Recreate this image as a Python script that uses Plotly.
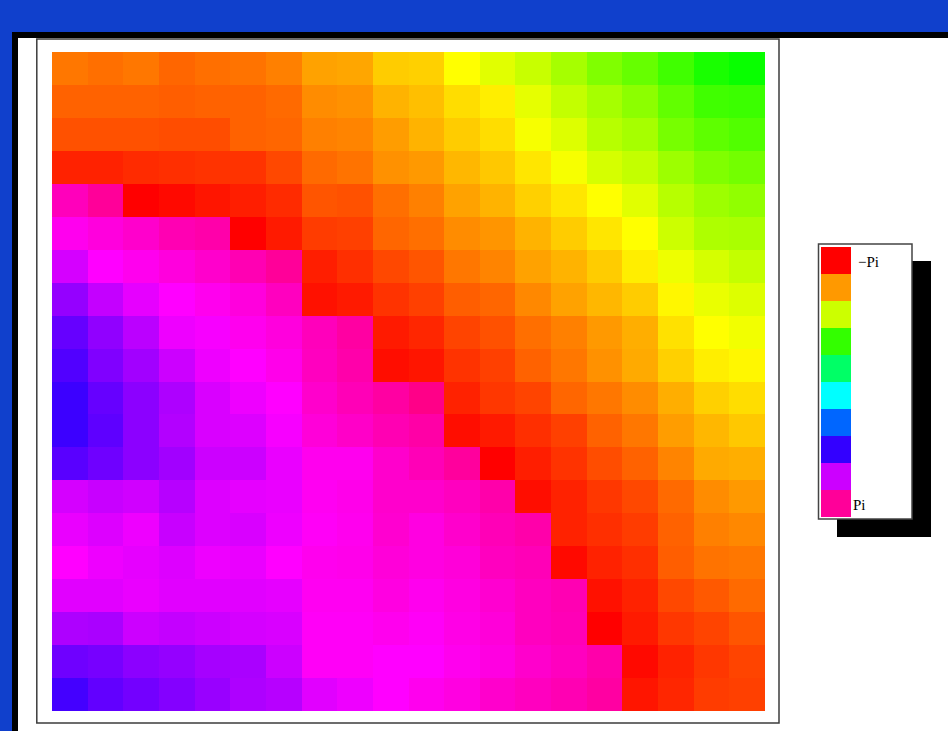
import plotly.graph_objects as go

phase_hue = [
    [28, 26, 28, 24, 26, 27, 30, 38, 39, 48, 49, 60, 67, 73, 81, 90, 96, 105, 114, 118],
    [23, 23, 23, 22, 23, 23, 25, 33, 34, 42, 45, 52, 56, 66, 74, 81, 87, 97, 105, 106],
    [19, 19, 19, 18, 18, 23, 24, 30, 31, 37, 42, 48, 52, 62, 68, 77, 81, 92, 98, 101],
    [8, 8, 10, 11, 12, 12, 17, 25, 27, 34, 36, 43, 47, 54, 62, 70, 74, 83, 90, 93],
    [316, 324, 0, 2, 5, 7, 10, 20, 19, 26, 30, 38, 42, 49, 54, 60, 67, 77, 83, 86],
    [304, 308, 312, 318, 320, 0, 6, 14, 15, 24, 26, 33, 35, 42, 48, 54, 60, 72, 79, 80],
    [290, 300, 304, 308, 312, 318, 324, 7, 11, 17, 20, 28, 31, 38, 42, 48, 56, 64, 70, 74],
    [275, 286, 294, 300, 304, 308, 315, 4, 6, 12, 15, 22, 24, 32, 38, 43, 48, 58, 65, 68],
    [264, 274, 284, 296, 298, 304, 308, 316, 322, 6, 9, 16, 19, 26, 30, 36, 41, 53, 60, 63],
    [259, 270, 278, 288, 296, 300, 305, 315, 320, 3, 5, 12, 15, 23, 28, 34, 40, 49, 56, 58],
    [254, 264, 273, 281, 291, 296, 300, 312, 317, 322, 328, 8, 13, 16, 24, 28, 33, 41, 49, 52],
    [254, 262, 273, 282, 291, 292, 298, 309, 313, 318, 321, 3, 6, 11, 15, 23, 28, 37, 43, 47],
    [261, 266, 273, 278, 288, 288, 295, 304, 304, 312, 317, 323, 0, 7, 12, 18, 23, 31, 40, 41],
    [290, 287, 289, 283, 292, 294, 295, 303, 305, 312, 312, 315, 320, 3, 8, 13, 17, 25, 33, 36],
    [295, 292, 296, 287, 292, 291, 296, 302, 304, 311, 307, 312, 317, 320, 8, 11, 14, 23, 30, 32],
    [300, 296, 294, 292, 296, 295, 300, 304, 305, 309, 307, 309, 315, 317, 2, 8, 11, 22, 27, 28],
    [293, 293, 295, 293, 293, 293, 294, 303, 303, 307, 304, 307, 311, 315, 318, 4, 8, 17, 21, 25],
    [281, 280, 288, 286, 288, 290, 291, 302, 302, 304, 302, 306, 309, 315, 317, 0, 6, 13, 16, 20],
    [266, 268, 273, 275, 279, 280, 288, 302, 302, 300, 300, 304, 307, 312, 315, 320, 2, 8, 13, 16],
    [256, 263, 267, 271, 276, 281, 283, 293, 296, 300, 304, 307, 312, 315, 318, 322, 5, 9, 14, 15],
]

legend_hues = [0, 36, 72, 108, 144, 180, 216, 252, 288, 324]
legend_labels = ["\u2212Pi", "Pi"]

W, H = 948, 731


def px(x):
    return x / W


def py(y):
    return 1 - y / H


hue_scale = [
    [0.0, "#ff0000"], [1 / 6, "#ffff00"], [2 / 6, "#00ff00"], [3 / 6, "#00ffff"],
    [4 / 6, "#0000ff"], [5 / 6, "#ff00ff"], [1.0, "#ff0000"],
]

fig = go.Figure()
fig.add_trace(go.Heatmap(
    z=phase_hue, colorscale=hue_scale, zmin=0, zmax=360, showscale=False,
    hoverinfo="skip", xaxis="x", yaxis="y",
))
fig.add_trace(go.Heatmap(
    z=[[h] for h in legend_hues], colorscale=hue_scale, zmin=0, zmax=360,
    showscale=False, hoverinfo="skip", xaxis="x2", yaxis="y2",
))

shapes = [
    dict(type="rect", xref="paper", yref="paper", x0=px(12), x1=px(W), y0=py(32), y1=py(H),
         fillcolor="#000000", line=dict(width=0), layer="below"),
    dict(type="rect", xref="paper", yref="paper", x0=px(18), x1=px(W), y0=py(38), y1=py(H),
         fillcolor="#ffffff", line=dict(width=0), layer="below"),
    dict(type="rect", xref="paper", yref="paper", x0=px(36.8), x1=px(779), y0=py(39), y1=py(723),
         fillcolor="rgba(0,0,0,0)", line=dict(color="#3c3c3c", width=1.5), layer="below"),
    dict(type="rect", xref="paper", yref="paper", x0=px(837), x1=px(931), y0=py(261), y1=py(537),
         fillcolor="#000000", line=dict(width=0), layer="below"),
    dict(type="rect", xref="paper", yref="paper", x0=px(818.5), x1=px(912), y0=py(244), y1=py(519),
         fillcolor="#ffffff", line=dict(color="#444444", width=1.5), layer="below"),
]

annotations = [
    dict(text=legend_labels[0], x=px(856), y=py(262), xref="paper", yref="paper",
         xanchor="left", yanchor="middle", showarrow=False,
         font=dict(family="Liberation Serif", size=15, color="#000000")),
    dict(text=legend_labels[1], x=px(851), y=py(505), xref="paper", yref="paper",
         xanchor="left", yanchor="middle", showarrow=False,
         font=dict(family="Liberation Serif", size=15, color="#000000")),
]

hidden = dict(visible=False, showgrid=False, zeroline=False, fixedrange=True)

fig.update_layout(
    width=W, height=H,
    margin=dict(l=0, r=0, t=0, b=0),
    paper_bgcolor="#1040cc",
    plot_bgcolor="rgba(0,0,0,0)",
    showlegend=False,
    xaxis=dict(domain=[px(52), px(765)], range=[-0.5, 19.5], **hidden),
    yaxis=dict(domain=[py(711), py(52)], range=[19.5, -0.5], **hidden),
    xaxis2=dict(domain=[px(821), px(851)], range=[-0.5, 0.5], anchor="y2", **hidden),
    yaxis2=dict(domain=[py(517), py(247)], range=[9.5, -0.5], anchor="x2", **hidden),
    shapes=shapes,
    annotations=annotations,
)

fig.write_html(
    "out.html",
    config={"displayModeBar": False},
    post_script="document.body.style.margin='0';document.body.style.overflow='hidden';",
)
